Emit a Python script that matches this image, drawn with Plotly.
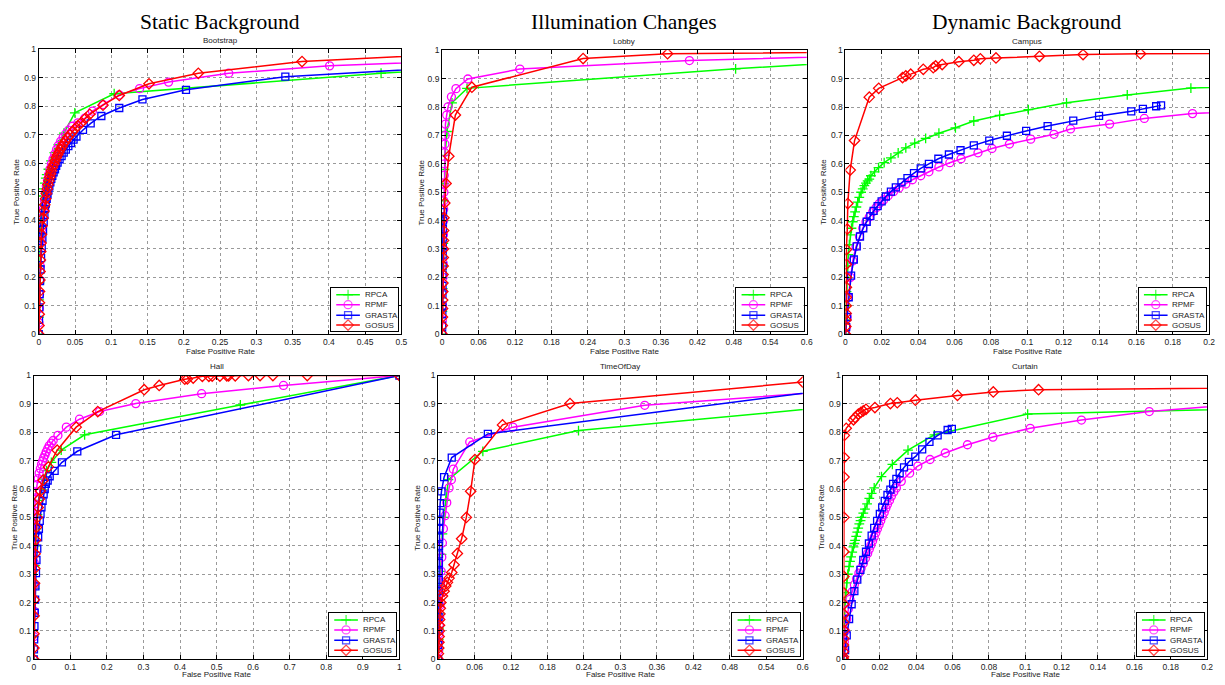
import plotly.graph_objects as go

# ---------------- labels ----------------
SERIES_NAMES = ["RPCA", "RPMF", "GRASTA", "GOSUS"]
PANEL_NAMES = ["Bootstrap", "Lobby", "Campus", "Hall", "TimeOfDay", "Curtain"]
GROUP_NAMES = ["Static Background", "Illumination Changes", "Dynamic Background"]
X_MAX = [0.5, 0.6, 0.2, 1.0, 0.6, 0.2]
X_STEP = [0.05, 0.06, 0.02, 0.1, 0.06, 0.02]
Y_TICKS = [0, 0.1, 0.2, 0.3, 0.4, 0.5, 0.6, 0.7, 0.8, 0.9, 1]

# ---------------- Bootstrap ----------------
BOOT_RPCA_X = [0, .0003, .0006, .001, .0014, .0019, .0025, .0032, .004, .0049, .0059, .007, .0083, .0097, .011, .0133, .0169, .0215, .027, .0347, .0497, .104, .472, 1]
BOOT_RPCA_Y = [0, .06, .12, .18, .24, .29, .34, .38, .42, .455, .485, .51, .53, .548, .56, .579, .608, .637, .665, .706, .777, .844, .916, 1]
BOOT_RPMF_X = [0, .0003, .0007, .0011, .0015, .002, .0026, .0033, .0042, .0052, .0064, .0077, .009, .0105, .012, .0137, .0155, .0175, .0197, .022, .0245, .0272, .0302, .0335, .037, .041, .046, .054, .0634, .074, .0886, .111, .139, .179, .262, .401, 1]
BOOT_RPMF_Y = [0, .04, .09, .14, .19, .24, .29, .33, .37, .41, .44, .47, .495, .52, .54, .56, .58, .598, .615, .632, .648, .663, .677, .69, .703, .716, .73, .742, .758, .783, .806, .84, .862, .885, .916, .942, 1]
BOOT_GRASTA_X = [0, .0004, .0009, .0013, .0018, .0025, .0032, .0041, .005, .0059, .0068, .0078, .0087, .0098, .011, .0121, .0133, .0146, .016, .0173, .0187, .0205, .0224, .024, .026, .0287, .0315, .0344, .0374, .0408, .0443, .048, .052, .061, .0716, .0863, .111, .143, .203, .340, 1]
BOOT_GRASTA_Y = [0, .05, .094, .14, .186, .227, .267, .302, .336, .366, .394, .418, .44, .458, .475, .49, .504, .519, .533, .545, .556, .568, .579, .591, .602, .614, .625, .637, .648, .66, .671, .683, .694, .717, .74, .766, .794, .824, .858, .904, 1]
BOOT_GOSUS_X = [0, .0003, .0006, .0009, .0012, .0015, .0018, .0022, .0027, .0032, .0037, .0045, .006, .0072, .0083, .0095, .0105, .0117, .0128, .014, .0151, .0163, .0174, .019, .021, .0226, .0242, .026, .028, .0302, .0324, .0347, .037, .04, .0429, .0462, .0497, .054, .0589, .0645, .0703, .0886, .111, .152, .220, .363, .6]
BOOT_GOSUS_Y = [0, .03, .07, .11, .15, .19, .22, .26, .29, .32, .35, .38, .408, .432, .454, .475, .494, .51, .525, .538, .551, .563, .574, .586, .597, .609, .62, .63, .639, .65, .66, .67, .679, .69, .70, .71, .72, .732, .743, .758, .772, .804, .838, .879, .916, .957, .988]

# ---------------- Lobby ----------------
LOBBY_RPCA_X = [0, .0005, .001, .0015, .002, .0025, .003, .0035, .004, .005, .008, .0163, .041, .483, 1]
LOBBY_RPCA_Y = [0, .08, .16, .24, .32, .4, .47, .53, .58, .63, .714, .815, .866, .935, 1]
LOBBY_RPMF_X = [0, .0004, .0008, .0012, .0015, .0018, .002, .0022, .0024, .0026, .0028, .003, .0032, .0035, .0038, .0042, .0046, .005, .0055, .0075, .0098, .0153, .0228, .0424, .128, .407, 1]
LOBBY_RPMF_Y = [0, .05, .1, .15, .2, .25, .3, .35, .4, .44, .47, .5, .53, .56, .6, .64, .67, .7, .74, .772, .801, .836, .865, .899, .934, .964, 1]
LOBBY_GRASTA_X = [0, .0002, .0004, .0005, .0006, .0007, .0008, .0009, .001, .0011, .0012, .0013, .0014, .0015]
LOBBY_GRASTA_Y = [0, .03, .07, .1, .14, .17, .21, .24, .28, .31, .34, .37, .4, .43]
LOBBY_GOSUS_X = [0, .0003, .0005, .0007, .0009, .0011, .0013, .0015, .0017, .0019, .0021, .0023, .0025, .003, .0044, .0065, .011, .0218, .049, .232, .371, 1]
LOBBY_GOSUS_Y = [0, .03, .06, .09, .12, .15, .18, .21, .24, .27, .3, .33, .365, .41, .462, .531, .627, .772, .87, .971, .988, 1]

# ---------------- Campus ----------------
CAMPUS_RPCA_X = [0, .0002, .0004, .0006, .0009, .0012, .0016, .0021, .0027, .0033, .004, .0046, .0053, .006, .0067, .0076, .0086, .0095, .0104, .0113, .0122, .0131, .014, .016, .0182, .0213, .025, .029, .0332, .0381, .0441, .0514, .0605, .0706, .0848, .1006, .1216, .155, .190, 1]
CAMPUS_RPCA_Y = [0, .05, .1, .15, .2, .24, .28, .315, .35, .373, .396, .414, .431, .448, .465, .482, .5, .512, .523, .532, .54, .546, .558, .572, .587, .604, .621, .639, .656, .673, .69, .708, .727, .751, .771, .791, .815, .843, .867, 1]
CAMPUS_RPMF_X = [0, .0005, .0009, .0016, .0027, .004, .0058, .0077, .0095, .0113, .0131, .015, .0168, .0186, .021, .0235, .0264, .0295, .0332, .0368, .0414, .0459, .0514, .0574, .0636, .0729, .0806, .0902, .1019, .1147, .1238, .1453, .1644, .1909, 1]
CAMPUS_RPMF_Y = [0, .025, .06, .13, .2, .258, .309, .344, .373, .396, .413, .431, .445, .46, .473, .488, .502, .515, .529, .544, .558, .572, .589, .604, .618, .639, .654, .670, .687, .704, .723, .740, .760, .777, 1]
CAMPUS_GRASTA_X = [0, .0004, .0009, .0018, .0031, .0046, .0062, .008, .0098, .0117, .0137, .0155, .0177, .0199, .0222, .025, .0277, .0308, .0341, .0377, .0414, .0459, .0511, .0569, .0633, .0706, .0791, .0888, .0994, .1112, .1253, .1395, .1572, .1636, .1709, .1736]
CAMPUS_GRASTA_Y = [0, .025, .06, .13, .206, .263, .309, .344, .373, .396, .416, .434, .451, .468, .485, .502, .517, .535, .55, .567, .584, .6, .618, .633, .648, .665, .682, .699, .716, .733, .752, .769, .785, .794, .803, .806]
CAMPUS_GOSUS_X = [0, .0002, .0003, .0004, .0004, .0005, .0005, .0005, .0005, .0005, .001, .0013, .0026, .005, .0131, .0183, .0314, .0332, .0359, .0428, .0483, .0496, .0532, .0624, .0706, .0742, .0828, .1067, .1307, .1623, 1]
CAMPUS_GOSUS_Y = [0, .027, .05, .073, .1, .13, .165, .2, .246, .298, .37, .46, .578, .682, .835, .866, .904, .91, .916, .933, .939, .945, .95, .96, .965, .97, .973, .979, .985, .988, 1]

# ---------------- Hall ----------------
HALL_RPCA_X = [0, .0005, .001, .002, .003, .005, .0073, .01, .014, .02, .027, .035, .048, .075, .139, .565, 1]
HALL_RPCA_Y = [0, .08, .16, .25, .33, .4, .46, .51, .56, .6, .635, .665, .694, .737, .791, .896, 1]
HALL_RPMF_X = [0, .0003, .0006, .0009, .0012, .0015, .0018, .002, .003, .0045, .006, .009, .012, .0145, .018, .021, .024, .027, .0305, .034, .038, .042, .048, .053, .066, .089, .125, .18, .279, .459, .683, 1]
HALL_RPMF_Y = [0, .08, .17, .26, .34, .41, .47, .523, .547, .569, .59, .615, .637, .656, .672, .687, .699, .71, .72, .731, .742, .752, .762, .771, .789, .818, .846, .873, .901, .936, .965, 1]
HALL_GRASTA_X = [0, .0005, .001, .0018, .0027, .0036, .0045, .006, .0073, .0095, .012, .014, .0163, .0185, .021, .024, .027, .03, .033, .038, .0435, .057, .077, .119, .225, 1]
HALL_GRASTA_Y = [0, .035, .07, .117, .164, .21, .257, .304, .35, .39, .43, .46, .488, .512, .535, .558, .581, .6, .618, .63, .645, .664, .694, .733, .791, 1]
HALL_GOSUS_X = [0, .0003, .0006, .001, .0015, .002, .0027, .0035, .005, .0073, .0095, .012, .015, .018, .0255, .04, .064, .116, .175, .302, .343, .413, .42, .436, .461, .479, .488, .509, .528, .533, .551, .587, .619, .654, .748, 1]
HALL_GOSUS_Y = [0, .04, .09, .153, .21, .268, .32, .372, .42, .465, .5, .535, .565, .593, .631, .678, .737, .818, .873, .95, .965, .987, .988, .991, .997, .997, .998, .998, .999, .999, .999, 1, 1, 1, 1, 1]

# ---------------- TimeOfDay ----------------
TOD_RPCA_X = [0, .0005, .001, .0015, .002, .0025, .003, .004, .0055, .007, .0095, .0125, .0169, .0736, .231, .8, 1]
TOD_RPCA_Y = [0, .03, .07, .11, .16, .21, .26, .31, .37, .442, .5, .56, .633, .733, .806, .92, 1]
TOD_RPMF_X = [0, .0005, .001, .0015, .002, .0025, .003, .0035, .004, .005, .006, .007, .0087, .0115, .0142, .018, .0218, .025, .052, .123, .34, 1]
TOD_RPMF_Y = [0, .03, .06, .09, .12, .15, .19, .23, .27, .31, .36, .41, .46, .506, .552, .604, .633, .67, .766, .818, .895, 1]
TOD_GRASTA_X = [0, .0002, .0004, .0006, .0008, .001, .0011, .0012, .0013, .0014, .0015, .0016, .0018, .002, .0027, .0033, .0055, .0098, .0224, .0818, .7, 1]
TOD_GRASTA_Y = [0, .05, .1, .15, .2, .24, .28, .31, .34, .37, .4, .43, .46, .488, .517, .55, .592, .642, .711, .794, .965, 1]
TOD_GOSUS_X = [0, .0005, .001, .0013, .0016, .0019, .0022, .0025, .003, .0035, .0044, .0071, .0098, .0125, .0153, .018, .0224, .0262, .0316, .0387, .0464, .0535, .0605, .106, .217, .6, 1]
TOD_GOSUS_Y = [0, .02, .04, .06, .08, .1, .12, .14, .16, .18, .2, .223, .24, .258, .271, .286, .306, .333, .373, .425, .5, .592, .704, .826, .901, .977, 1]

# ---------------- Curtain ----------------
CURT_RPCA_X = [0, .0002, .0004, .0009, .0013, .0018, .0024, .0031, .0036, .0042, .0048, .0055, .006, .0064, .007, .0076, .0081, .0087, .0094, .01, .0109, .0118, .013, .0142, .0155, .0169, .0209, .0269, .0355, .05, .1013, 1]
CURT_RPCA_Y = [0, .05, .13, .2, .235, .269, .3, .327, .345, .361, .378, .396, .408, .419, .433, .448, .462, .477, .489, .5, .515, .529, .548, .567, .585, .604, .644, .687, .737, .791, .864, 1]
CURT_RPMF_X = [0, .0002, .0005, .001, .0018, .0027, .0036, .0048, .006, .0072, .0085, .0097, .0109, .0121, .0133, .0142, .0151, .016, .0169, .0178, .0187, .0196, .0205, .0214, .0224, .0233, .0242, .0253, .0264, .0277, .0291, .0318, .0364, .0409, .0476, .056, .0682, .0822, .1027, .1309, .1682, .23, 1]
CURT_RPMF_Y = [0, .03, .061, .1, .142, .177, .211, .238, .263, .284, .304, .321, .338, .356, .373, .388, .402, .417, .431, .446, .46, .474, .488, .503, .517, .532, .546, .56, .575, .59, .604, .627, .656, .681, .704, .727, .756, .783, .814, .843, .873, .905, 1]
CURT_GRASTA_X = [0, .0009, .0018, .0031, .0045, .006, .0076, .0093, .0109, .0124, .014, .0155, .0169, .0185, .02, .0213, .0227, .0242, .0258, .0273, .0291, .0309, .0333, .036, .0395, .0433, .0473, .0518, .0573, .0596]
CURT_GRASTA_Y = [0, .032, .084, .142, .194, .24, .281, .315, .35, .379, .408, .436, .463, .488, .512, .535, .558, .579, .598, .618, .636, .656, .676, .696, .714, .74, .766, .789, .808, .812]
CURT_GOSUS_X = [0, 0, 0, 0, .0002, .0002, .0002, .0002, .0002, .0002, .0002, .0002, .0003, .0003, .0004, .0005, .0015, .0055, .0064, .0082, .0096, .0109, .0124, .0173, .0258, .0296, .0396, .0627, .0824, .1073, .3, 1]
CURT_GOSUS_Y = [0, .009, .027, .05, .073, .102, .13, .159, .194, .234, .292, .379, .5, .642, .711, .789, .814, .844, .852, .864, .870, .875, .881, .887, .901, .904, .913, .930, .942, .950, .981, 1]

PANEL_DATA = [
    [(BOOT_RPCA_X, BOOT_RPCA_Y), (BOOT_RPMF_X, BOOT_RPMF_Y), (BOOT_GRASTA_X, BOOT_GRASTA_Y), (BOOT_GOSUS_X, BOOT_GOSUS_Y)],
    [(LOBBY_RPCA_X, LOBBY_RPCA_Y), (LOBBY_RPMF_X, LOBBY_RPMF_Y), (LOBBY_GRASTA_X, LOBBY_GRASTA_Y), (LOBBY_GOSUS_X, LOBBY_GOSUS_Y)],
    [(CAMPUS_RPCA_X, CAMPUS_RPCA_Y), (CAMPUS_RPMF_X, CAMPUS_RPMF_Y), (CAMPUS_GRASTA_X, CAMPUS_GRASTA_Y), (CAMPUS_GOSUS_X, CAMPUS_GOSUS_Y)],
    [(HALL_RPCA_X, HALL_RPCA_Y), (HALL_RPMF_X, HALL_RPMF_Y), (HALL_GRASTA_X, HALL_GRASTA_Y), (HALL_GOSUS_X, HALL_GOSUS_Y)],
    [(TOD_RPCA_X, TOD_RPCA_Y), (TOD_RPMF_X, TOD_RPMF_Y), (TOD_GRASTA_X, TOD_GRASTA_Y), (TOD_GOSUS_X, TOD_GOSUS_Y)],
    [(CURT_RPCA_X, CURT_RPCA_Y), (CURT_RPMF_X, CURT_RPMF_Y), (CURT_GRASTA_X, CURT_GRASTA_Y), (CURT_GOSUS_X, CURT_GOSUS_Y)],
]

# ---------------- styles / geometry ----------------
W, H = 1225, 685
COLORS = ["#00ff00", "#ff00ff", "#0000ff", "#ff0000"]
SYMBOLS = ["cross-thin-open", "circle-open", "square-open", "diamond-open"]
MSIZES = [7, 8, 7, 8]
# plot-area boxes in pixels: left, right, top, bottom
PANEL_BOX = [(37, 402, 45, 334), (443, 810, 46, 334), (849, 1215, 46, 334),
             (32, 400, 376, 664), (439, 806, 376, 664), (847, 1213, 376, 664)]
YLABEL_X = [15, 422, 827, 12, 418, 825]
SANS = "Liberation Sans, Arial, sans-serif"
SERIF = "Liberation Serif, Times New Roman, serif"


def px_x(v):
    return v / W


def px_y(v):
    return 1 - v / H


fig = go.Figure()
annotations = []
layout = dict(width=W, height=H, autosize=False, margin=dict(l=0, r=0, t=0, b=0),
              paper_bgcolor="white", plot_bgcolor="white", showlegend=False)

for p in range(6):
    ax = "" if p == 0 else str(p + 1)
    L, R, T, B = PANEL_BOX[p]
    xmax, step = X_MAX[p], X_STEP[p]
    nt = int(round(xmax / step))
    xticks = [round(i * step, 4) for i in range(nt + 1)]
    common = dict(showline=True, linecolor="black", linewidth=1, mirror="ticks",
                  ticks="inside", ticklen=4, tickcolor="black", tickwidth=1,
                  showgrid=True, gridcolor="#9a9a9a", griddash="dot", gridwidth=1,
                  zeroline=False, fixedrange=True,
                  tickfont=dict(family=SANS, size=8.5, color="#222"))
    layout["xaxis" + ax] = dict(common, domain=[px_x(L), px_x(R)], range=[0, xmax],
                                tickmode="array", tickvals=xticks,
                                ticklabelstandoff=(-1 if p >= 3 else 0),
                                anchor="y" + ax)
    layout["yaxis" + ax] = dict(common, domain=[px_y(B), px_y(T)], range=[0, 1],
                                tickmode="array", tickvals=Y_TICKS,
                                anchor="x" + ax)
    for s in range(4):
        xs, ys = PANEL_DATA[p][s]
        fig.add_trace(go.Scatter(
            x=xs, y=ys, mode="lines+markers", name=SERIES_NAMES[s],
            xaxis="x" + ax, yaxis="y" + ax,
            line=dict(color=COLORS[s], width=1.5),
            marker=dict(symbol=SYMBOLS[s], size=MSIZES[s], color=COLORS[s],
                        line=dict(color=COLORS[s], width=1.3)),
        ))
    cx = (L + R) / 2
    cy = (T + B) / 2
    annotations.append(dict(text=PANEL_NAMES[p], x=px_x(cx), y=px_y(T - 9), xref="paper", yref="paper",
                            showarrow=False, xanchor="center", yanchor="middle",
                            font=dict(family=SANS, size=8, color="#222")))
    if p < 3:
        xt = dict(y=px_y(B + 18), yanchor="middle")
    else:
        xt = dict(y=px_y(685), yanchor="bottom")
    annotations.append(dict(text="False Positive Rate", x=px_x(cx), xref="paper", yref="paper",
                            showarrow=False, xanchor="center", borderpad=0,
                            font=dict(family=SANS, size=8, color="#222"), **xt))
    annotations.append(dict(text="True Positive Rate", x=px_x(YLABEL_X[p]), y=px_y(cy), xref="paper", yref="paper",
                            showarrow=False, xanchor="center", yanchor="middle", textangle=-90,
                            font=dict(family=SANS, size=8, color="#222")))
    if p < 3:
        annotations.append(dict(text=GROUP_NAMES[p], x=px_x(cx), y=px_y(17), xref="paper", yref="paper",
                                showarrow=False, xanchor="center", yanchor="middle",
                                font=dict(family=SERIF, size=21.5, color="black")))

# legends: a small boxed subplot in the lower-right corner of each panel
LEG_W, LEG_H = 68, 44
ROWS = [0.84, 0.61, 0.37, 0.14]
for p in range(6):
    L, R, T, B = PANEL_BOX[p]
    lid = str(p + 7)
    lx1, ly1 = R - 3, B - 3
    layout["xaxis" + lid] = dict(domain=[px_x(lx1 - LEG_W), px_x(lx1)], range=[0, 1], anchor="y" + lid,
                                 showline=True, mirror=True, linecolor="black", linewidth=1.3,
                                 showgrid=False, zeroline=False, showticklabels=False, ticks="",
                                 fixedrange=True)
    layout["yaxis" + lid] = dict(domain=[px_y(ly1), px_y(ly1 - LEG_H)], range=[0, 1], anchor="x" + lid,
                                 showline=True, mirror=True, linecolor="black", linewidth=1.3,
                                 showgrid=False, zeroline=False, showticklabels=False, ticks="",
                                 fixedrange=True)
    for s in range(4):
        fig.add_trace(go.Scatter(
            x=[0.08, 0.255, 0.43], y=[ROWS[s]] * 3, mode="lines+markers",
            xaxis="x" + lid, yaxis="y" + lid, hoverinfo="skip",
            line=dict(color=COLORS[s], width=1.5),
            marker=dict(symbol=SYMBOLS[s], size=[0, MSIZES[s], 0], color=COLORS[s],
                        line=dict(color=COLORS[s], width=1.3)),
        ))
        annotations.append(dict(text=SERIES_NAMES[s], x=0.47, y=ROWS[s], xref="x" + lid, yref="y" + lid,
                                showarrow=False, xanchor="left", yanchor="middle",
                                font=dict(family=SANS, size=8, color="#222")))

layout["annotations"] = annotations
fig.update_layout(**layout)
# remove the page's default body margin so the 1225x685 figure fills the window exactly
fig.write_html("out.html",
               config={"displayModeBar": False},
               post_script="document.body.style.margin='0px';document.body.style.overflow='hidden';")
